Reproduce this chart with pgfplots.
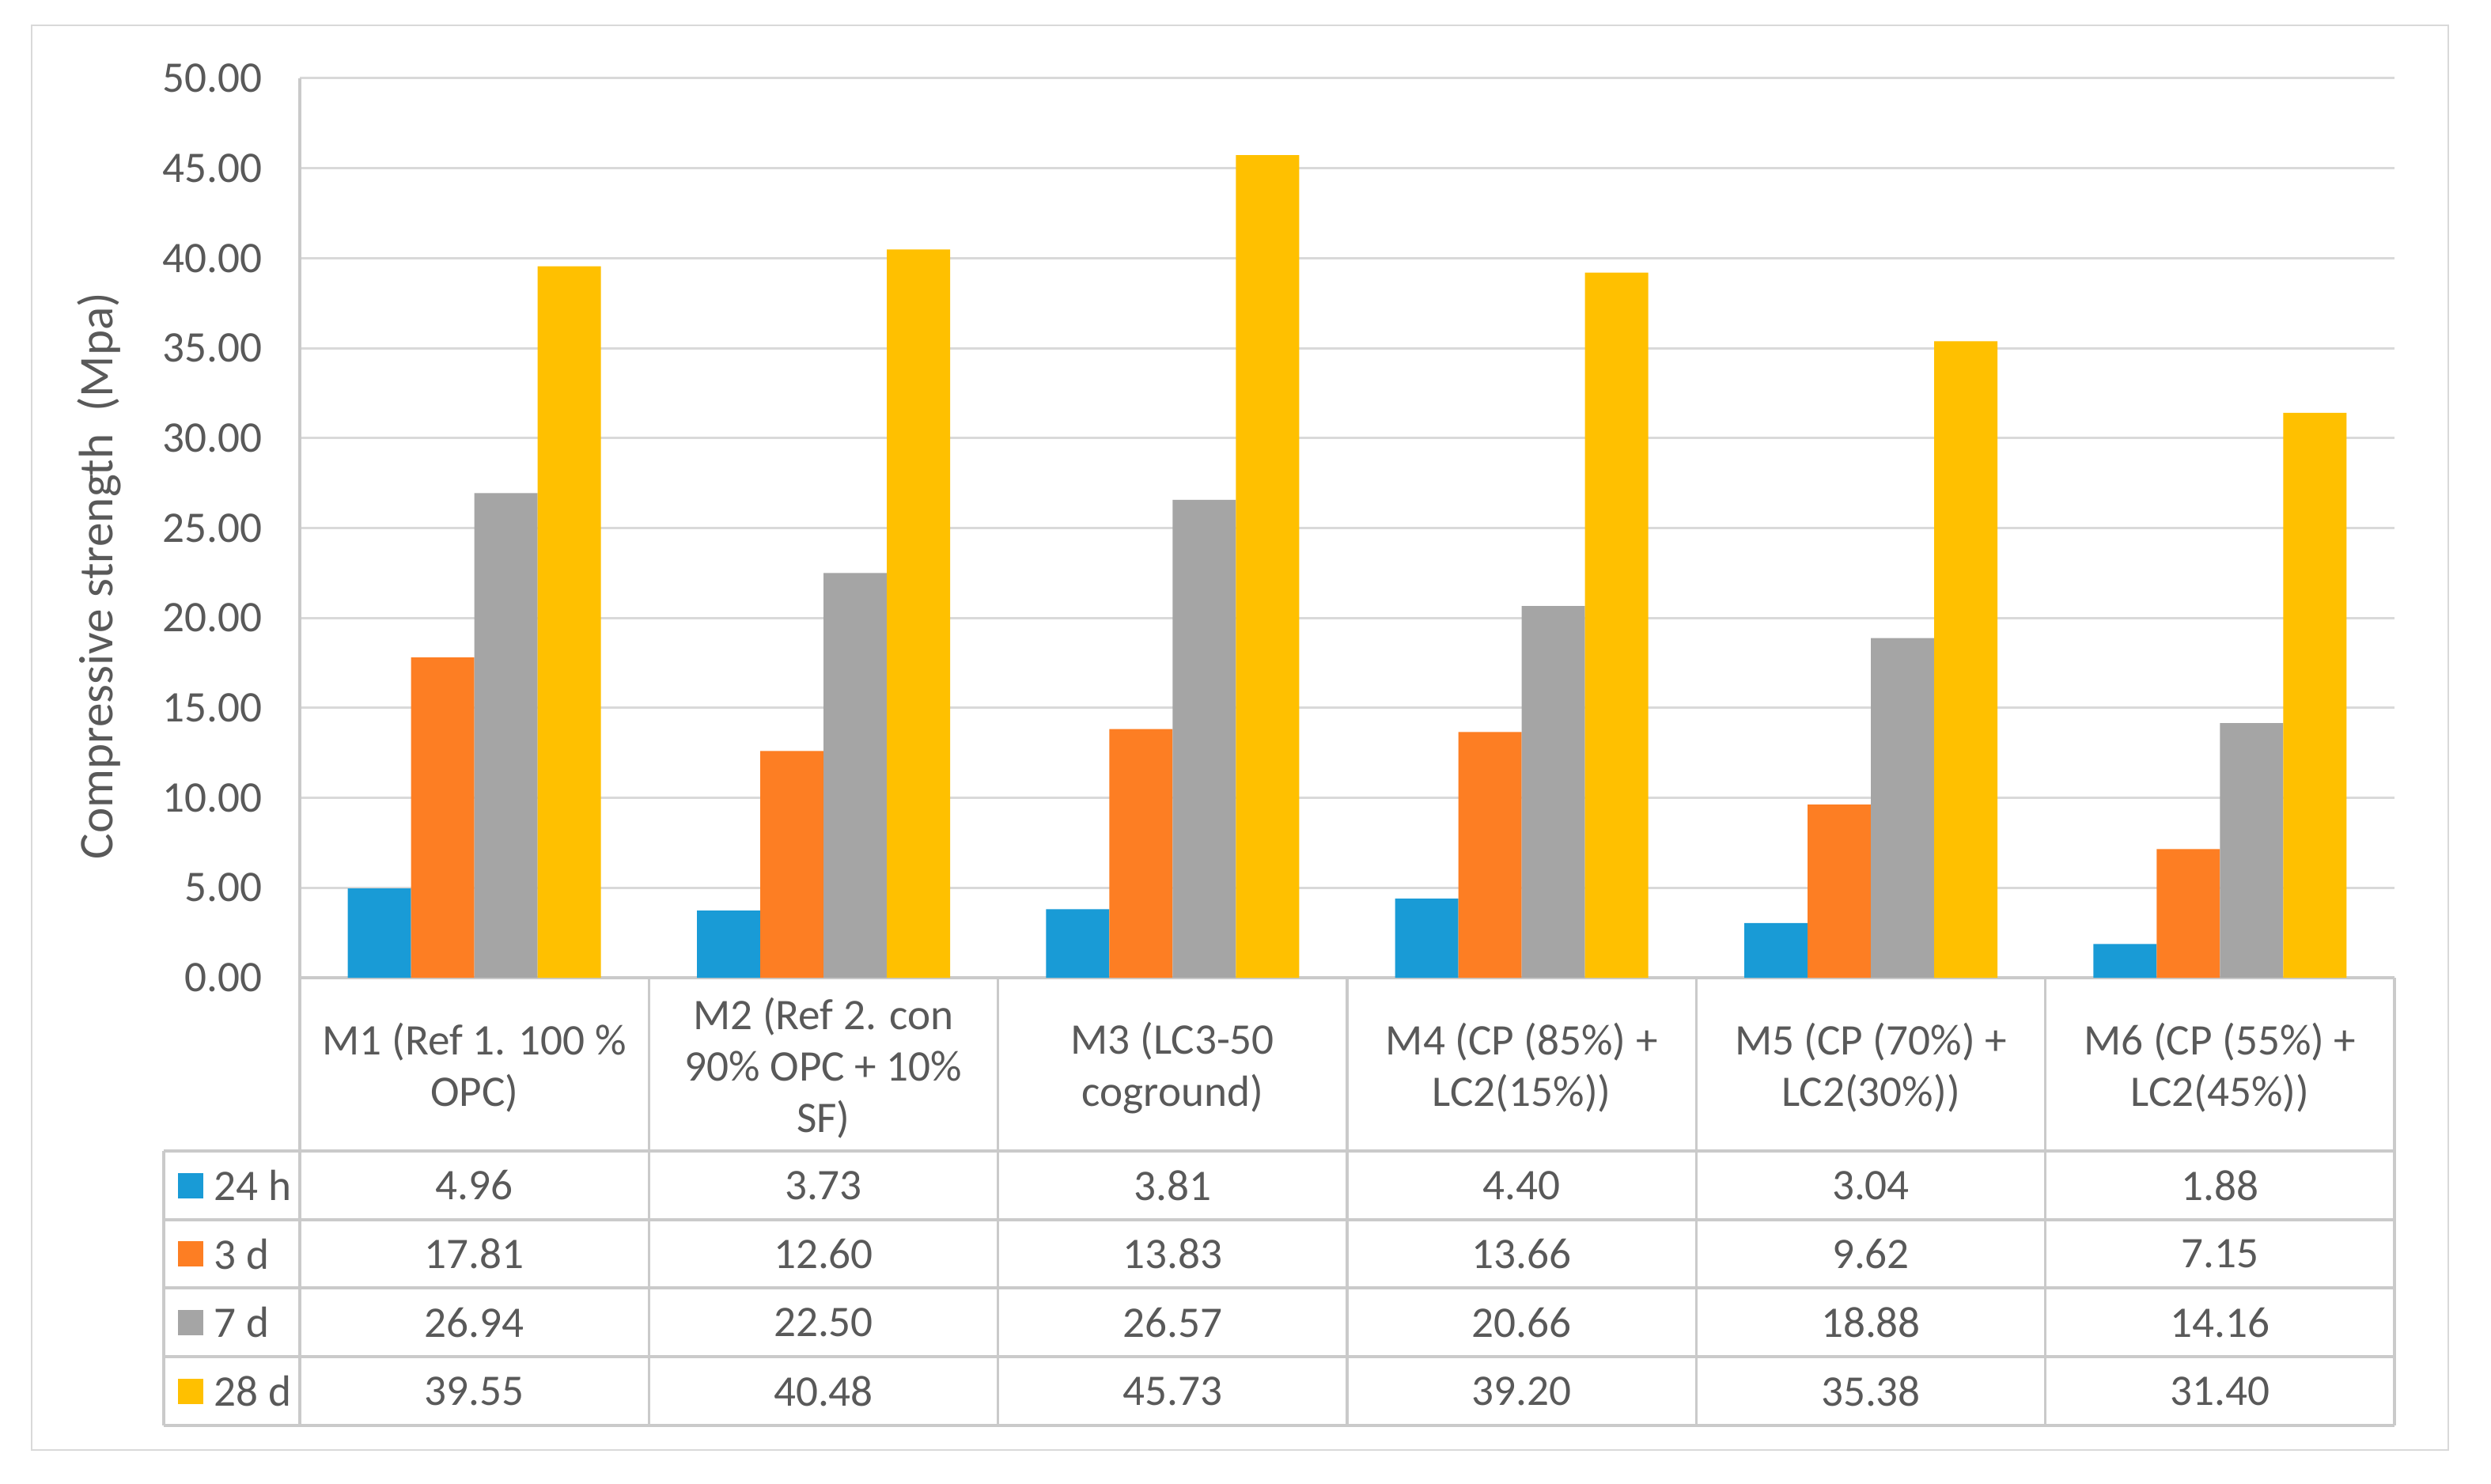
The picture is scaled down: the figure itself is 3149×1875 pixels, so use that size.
\documentclass[border=0pt]{standalone}
\usepackage{pgfplots}
\pgfplotsset{compat=1.18}
\usepackage{pgfplotstable}
\usepackage{fontspec}
\setmainfont{Carlito}

\definecolor{c24h}{HTML}{199BD6}
\definecolor{c3d}{HTML}{FD7E23}
\definecolor{c7d}{HTML}{A5A5A5}
\definecolor{c28d}{HTML}{FFC000}
\definecolor{txt}{HTML}{595959}
\definecolor{gridc}{HTML}{D9D9D9}
\definecolor{linec}{HTML}{CACACA}
\newcommand\lbl{\fontsize{13.8}{16.3}\selectfont}

% compressive strength (MPa) per mix
\pgfplotstableread{
x h24  d3    d7    d28
0 4.96 17.81 26.94 39.55
1 3.73 12.60 22.50 40.48
2 3.81 13.83 26.57 45.73
3 4.40 13.66 20.66 39.20
4 3.04 9.62  18.88 35.38
5 1.88 7.15  14.16 31.40
}\datatable

\begin{document}
\begin{tikzpicture}
% page area, in pixels of the reference (1px = 0.25pt), origin at the axis corner
\begin{scope}[x=0.25pt,y=-0.25pt,shift={(-94.75pt,309pt)}]
  \fill[white] (0,0) rectangle (3149,1875);
\end{scope}

\begin{axis}[
  at={(0,0)}, anchor=south west,
  scale only axis, width=662pt, height=284.25pt,
  xmin=-0.5, xmax=5.5, ymin=0, ymax=50,
  ytick={0,5,...,50}, xtick=\empty,
  axis x line*=bottom, axis y line*=left,
  axis line style={draw=linec, line width=0.8pt},
  ymajorgrids, grid style={draw=gridc, line width=0.75pt},
  major tick length=0pt,
  ybar=0pt, bar width=20pt,
  scaled y ticks=false,
  yticklabel style={font=\lbl, text=txt, inner sep=0pt, anchor=east, xshift=-11.75pt},
  /pgf/number format/fixed,
  /pgf/number format/fixed zerofill,
  /pgf/number format/precision=2,
  /pgf/number format/assume math mode=true,
]
\addplot[fill=c24h, draw=none] table[x=x, y=h24] {\datatable};
\addplot[fill=c3d,  draw=none] table[x=x, y=d3]  {\datatable};
\addplot[fill=c7d,  draw=none] table[x=x, y=d7]  {\datatable};
\addplot[fill=c28d, draw=none] table[x=x, y=d28] {\datatable};
\end{axis}

\begin{scope}[x=0.25pt,y=-0.25pt,shift={(-94.75pt,309pt)},
              every node/.style={font=\lbl, text=txt}]
  % outer chart frame
  \draw[gridc, line width=0.7pt] (40,32) rectangle (3095,1833);

  % data table grid
  \foreach \yy in {1455,1542,1628,1715,1802}
    \draw[linec, line width=0.8pt] (207,\yy) -- (3027,\yy);
  \foreach \k in {0,...,6}
    \draw[linec, line width=0.8pt] ({379+441.33*\k},1236) -- ({379+441.33*\k},1802);
  \draw[linec, line width=0.8pt] (207,1455) -- (207,1802);

  % category headers
  \node[align=center] at (599.7,1350)  {M1 (Ref 1. 100 \%\\OPC)};
  \node[align=center] at (1041.0,1350) {M2 (Ref 2. con\\90\% OPC + 10\%\\SF)};
  \node[align=center] at (1482.3,1350) {M3 (LC3-50\\coground)};
  \node[align=center] at (1923.7,1350) {M4 (CP (85\%) +\\LC2(15\%))};
  \node[align=center] at (2365.0,1350) {M5 (CP (70\%) +\\LC2(30\%))};
  \node[align=center] at (2806.3,1350) {M6 (CP (55\%) +\\LC2(45\%))};

  % legend keys in the first column
  \foreach \c/\t [count=\r from 0] in {c24h/24 h, c3d/3 d, c7d/7 d, c28d/28 d} {
    \fill[\c] (225,{1498.5+86.75*\r-16}) rectangle (257,{1498.5+86.75*\r+16});
    \node[anchor=west, inner sep=0pt] at (270,{1498.5+86.75*\r}) {\t};
  }

  % values
  \foreach \cc in {0,...,5} {
    \foreach \col/\r in {h24/0, d3/1, d7/2, d28/3} {
      \pgfplotstablegetelem{\cc}{\col}\of\datatable
      \node[inner sep=0pt] at ({379+441.33*(\cc+0.5)},{1498.5+86.75*\r}) {\pgfplotsretval};
    }
  }

  % y label
  \node[rotate=90, font=\fontsize{15.3}{18}\selectfont] at (125,728) {Compressive strength\ \ (Mpa)};
\end{scope}
\end{tikzpicture}
\end{document}
